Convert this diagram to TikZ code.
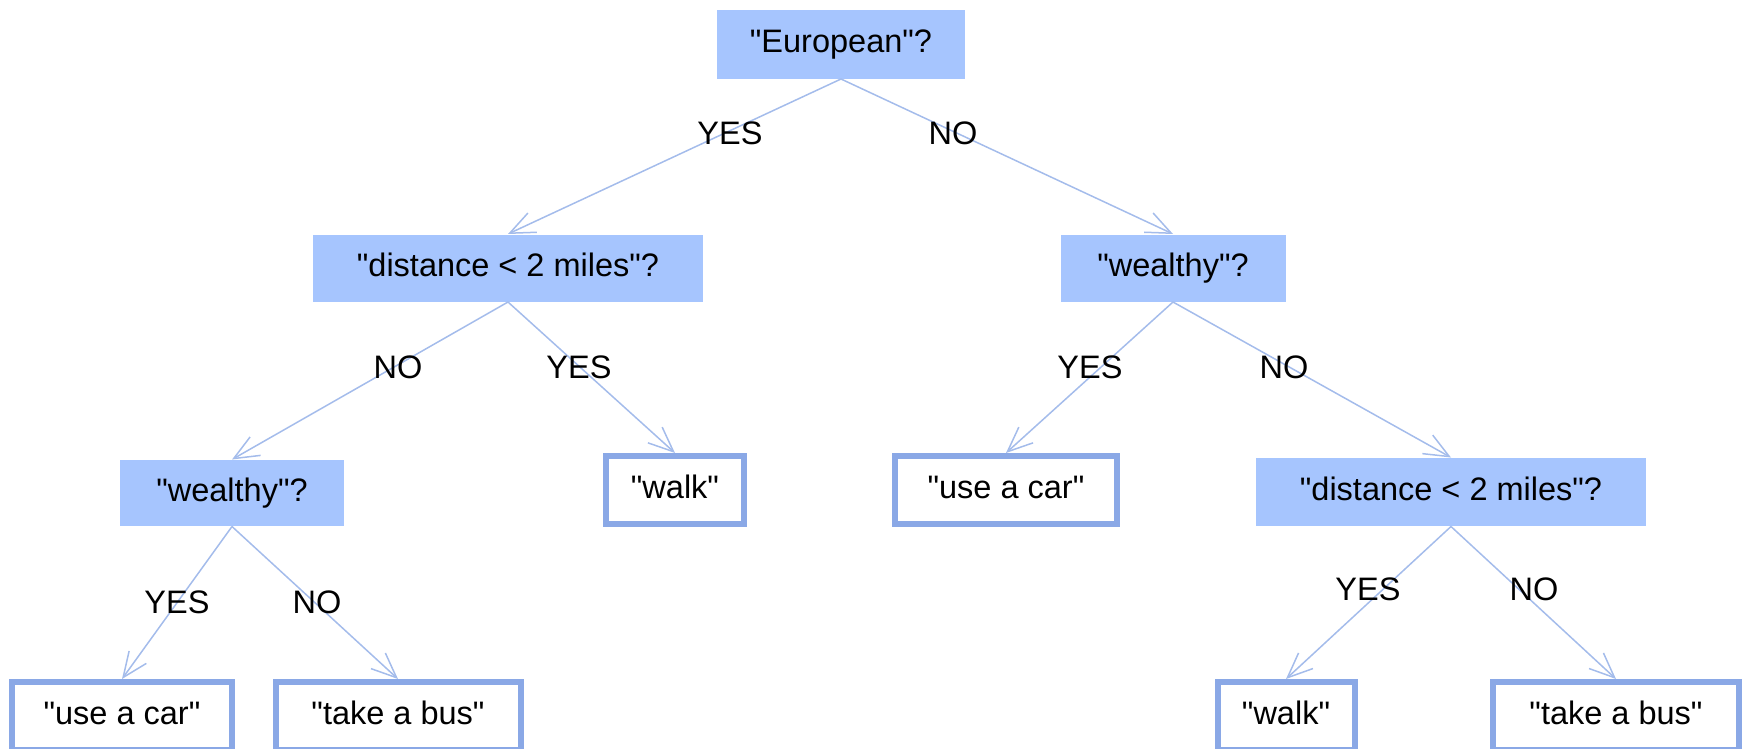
\documentclass[tikz,border=0pt]{standalone}
\usepackage{fontspec}
\setmainfont{Liberation Sans}[Ligatures=TeXOff]
\usetikzlibrary{arrows.meta}
\definecolor{qfill}{HTML}{A6C5FE}
\definecolor{leafline}{HTML}{8AA8E6}
\definecolor{edgecol}{HTML}{A4BCEB}
\begin{document}
\begin{tikzpicture}[x=0.4pt,y=-0.4pt,
  every node/.style={font=\fontsize{13pt}{15pt}\selectfont, inner sep=0pt, text height=9.4pt, text depth=2.6pt},
  question/.style={fill=qfill, draw=none, rectangle, minimum height=#1},
  question/.default=27pt,
  leaf/.style={draw=leafline, fill=white, line width=2.4pt, rectangle, minimum height=27.2pt},
  lbl/.style={},
  edge/.style={draw=edgecol, line width=0.6pt, -{Straight Barb[length=10pt,width=8.5pt]}}
]
\useasboundingbox (0,0) rectangle (1748,748);
\clip (0,0) rectangle (1748,748);

% question nodes
\node[question=27.6pt, minimum width=99.2pt] (root) at (841,44) {"European"?};
\node[question=26.8pt, minimum width=156pt] (dL) at (508,268) {"distance < 2 miles"?};
\node[question=26.8pt, minimum width=90pt] (wR) at (1173,268) {"wealthy"?};
\node[question=26.4pt, minimum width=89.6pt] (wL) at (232,493) {"wealthy"?};
\node[question=27.2pt, minimum width=156pt] (dR) at (1451,492) {"distance < 2 miles"?};

% leaves
\node[leaf, minimum width=55.2pt] (walk1) at (675,490) {"walk"};
\node[leaf, minimum width=88.8pt] (car1) at (1006,490) {"use a car"};
\node[leaf, minimum width=88pt] (car2) at (122,716) {"use a car"};
\node[leaf, minimum width=98pt] (bus1) at (398,716) {"take a bus"};
\node[leaf, minimum width=54.8pt] (walk2) at (1286,716) {"walk"};
\node[leaf, minimum width=98.4pt] (bus2) at (1616,716) {"take a bus"};

% edges
\draw[edge] (root.south) -- (dL.north);
\draw[edge] (root.south) -- (wR.north);
\draw[edge] (dL.south) -- (wL.north);
\draw[edge] (dL.south) -- (walk1.north);
\draw[edge] (wR.south) -- (car1.north);
\draw[edge] (wR.south) -- (dR.north);
\draw[edge] (wL.south) -- (car2.north);
\draw[edge] (wL.south) -- (bus1.north);
\draw[edge] (dR.south) -- (walk2.north);
\draw[edge] (dR.south) -- (bus2.north);

% edge labels
\node[lbl] (l1) at (730,136) {YES};
\node[lbl] (l2) at (953,136) {NO};
\node[lbl] (l3) at (398,370) {NO};
\node[lbl] (l4) at (579,370) {YES};
\node[lbl] (l5) at (1090,370) {YES};
\node[lbl] (l6) at (1284,370) {NO};
\node[lbl] (l7) at (177,605) {YES};
\node[lbl] (l8) at (317,605) {NO};
\node[lbl] (l9) at (1368,592) {YES};
\node[lbl] (l10) at (1534,592) {NO};
\end{tikzpicture}
\end{document}
